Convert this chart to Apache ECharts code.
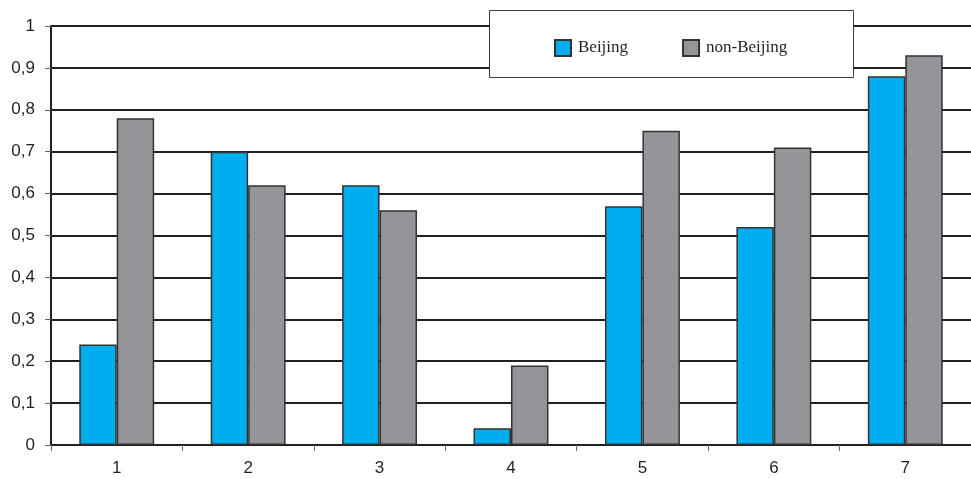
<!DOCTYPE html>
<html>
<head>
<meta charset="utf-8">
<script src="https://cdn.jsdelivr.net/npm/echarts@6/dist/echarts.min.js"></script>
<style>
  html, body { margin: 0; padding: 0; background: #fff; }
  #chart { width: 971px; height: 479px; }
</style>
</head>
<body>
<div id="chart"></div>
<script>
var categories = ['1', '2', '3', '4', '5', '6', '7']
var beijing = [0.24, 0.70, 0.62, 0.04, 0.57, 0.52, 0.88]
var nonBeijing = [0.78, 0.62, 0.56, 0.19, 0.75, 0.71, 0.93]

var chart = echarts.init(document.getElementById('chart'))
chart.setOption({
  animation: false,
  grid: { left: 51, right: 0, top: 26, bottom: 34 },
  // legend box drawn as a plain rect, legend sits inside it
  graphic: [{
    type: 'rect',
    z: 3,
    shape: { x: 489.5, y: 10.5, width: 364, height: 67 },
    style: { fill: '#fff', stroke: '#3a3a3a', lineWidth: 1 }
  }],
  legend: {
    z: 5,
    left: 549,
    top: 34,
    icon: 'rect',
    itemWidth: 16,
    itemHeight: 16,
    itemGap: 54,
    textStyle: { fontFamily: 'Liberation Serif', fontSize: 17, color: '#231f20', padding: [0, 0, 0, 2] },
    data: ['Beijing', 'non-Beijing']
  },
  xAxis: {
    type: 'category',
    data: categories,
    axisLine: { lineStyle: { color: '#231f20', width: 2 } },
    axisTick: { show: true, length: 6, lineStyle: { color: '#666', width: 1 } },
    axisLabel: { fontFamily: 'Liberation Sans', fontSize: 17, color: '#231f20', margin: 15 }
  },
  yAxis: {
    type: 'value',
    min: 0,
    max: 1,
    interval: 0.1,
    axisLine: { show: true, lineStyle: { color: '#231f20', width: 2 } },
    axisTick: { show: true, length: 6, lineStyle: { color: '#666', width: 1 } },
    splitLine: { lineStyle: { color: '#231f20', width: 2 } },
    axisLabel: {
      fontFamily: 'Liberation Sans', fontSize: 17, color: '#231f20', margin: 16,
      formatter: function(v) { return String(Math.round(v * 10) / 10).replace('.', ',') }
    }
  },
  series: [{
    name: 'Beijing',
    type: 'bar',
    data: beijing,
    barGap: '0%',
    barCategoryGap: '43%',
    itemStyle: { color: '#00aeef', borderColor: '#333', borderWidth: 1.5 }
  }, {
    name: 'non-Beijing',
    type: 'bar',
    data: nonBeijing,
    itemStyle: { color: '#939598', borderColor: '#333', borderWidth: 1.5 }
  }]
})
</script>
</body>
</html>
